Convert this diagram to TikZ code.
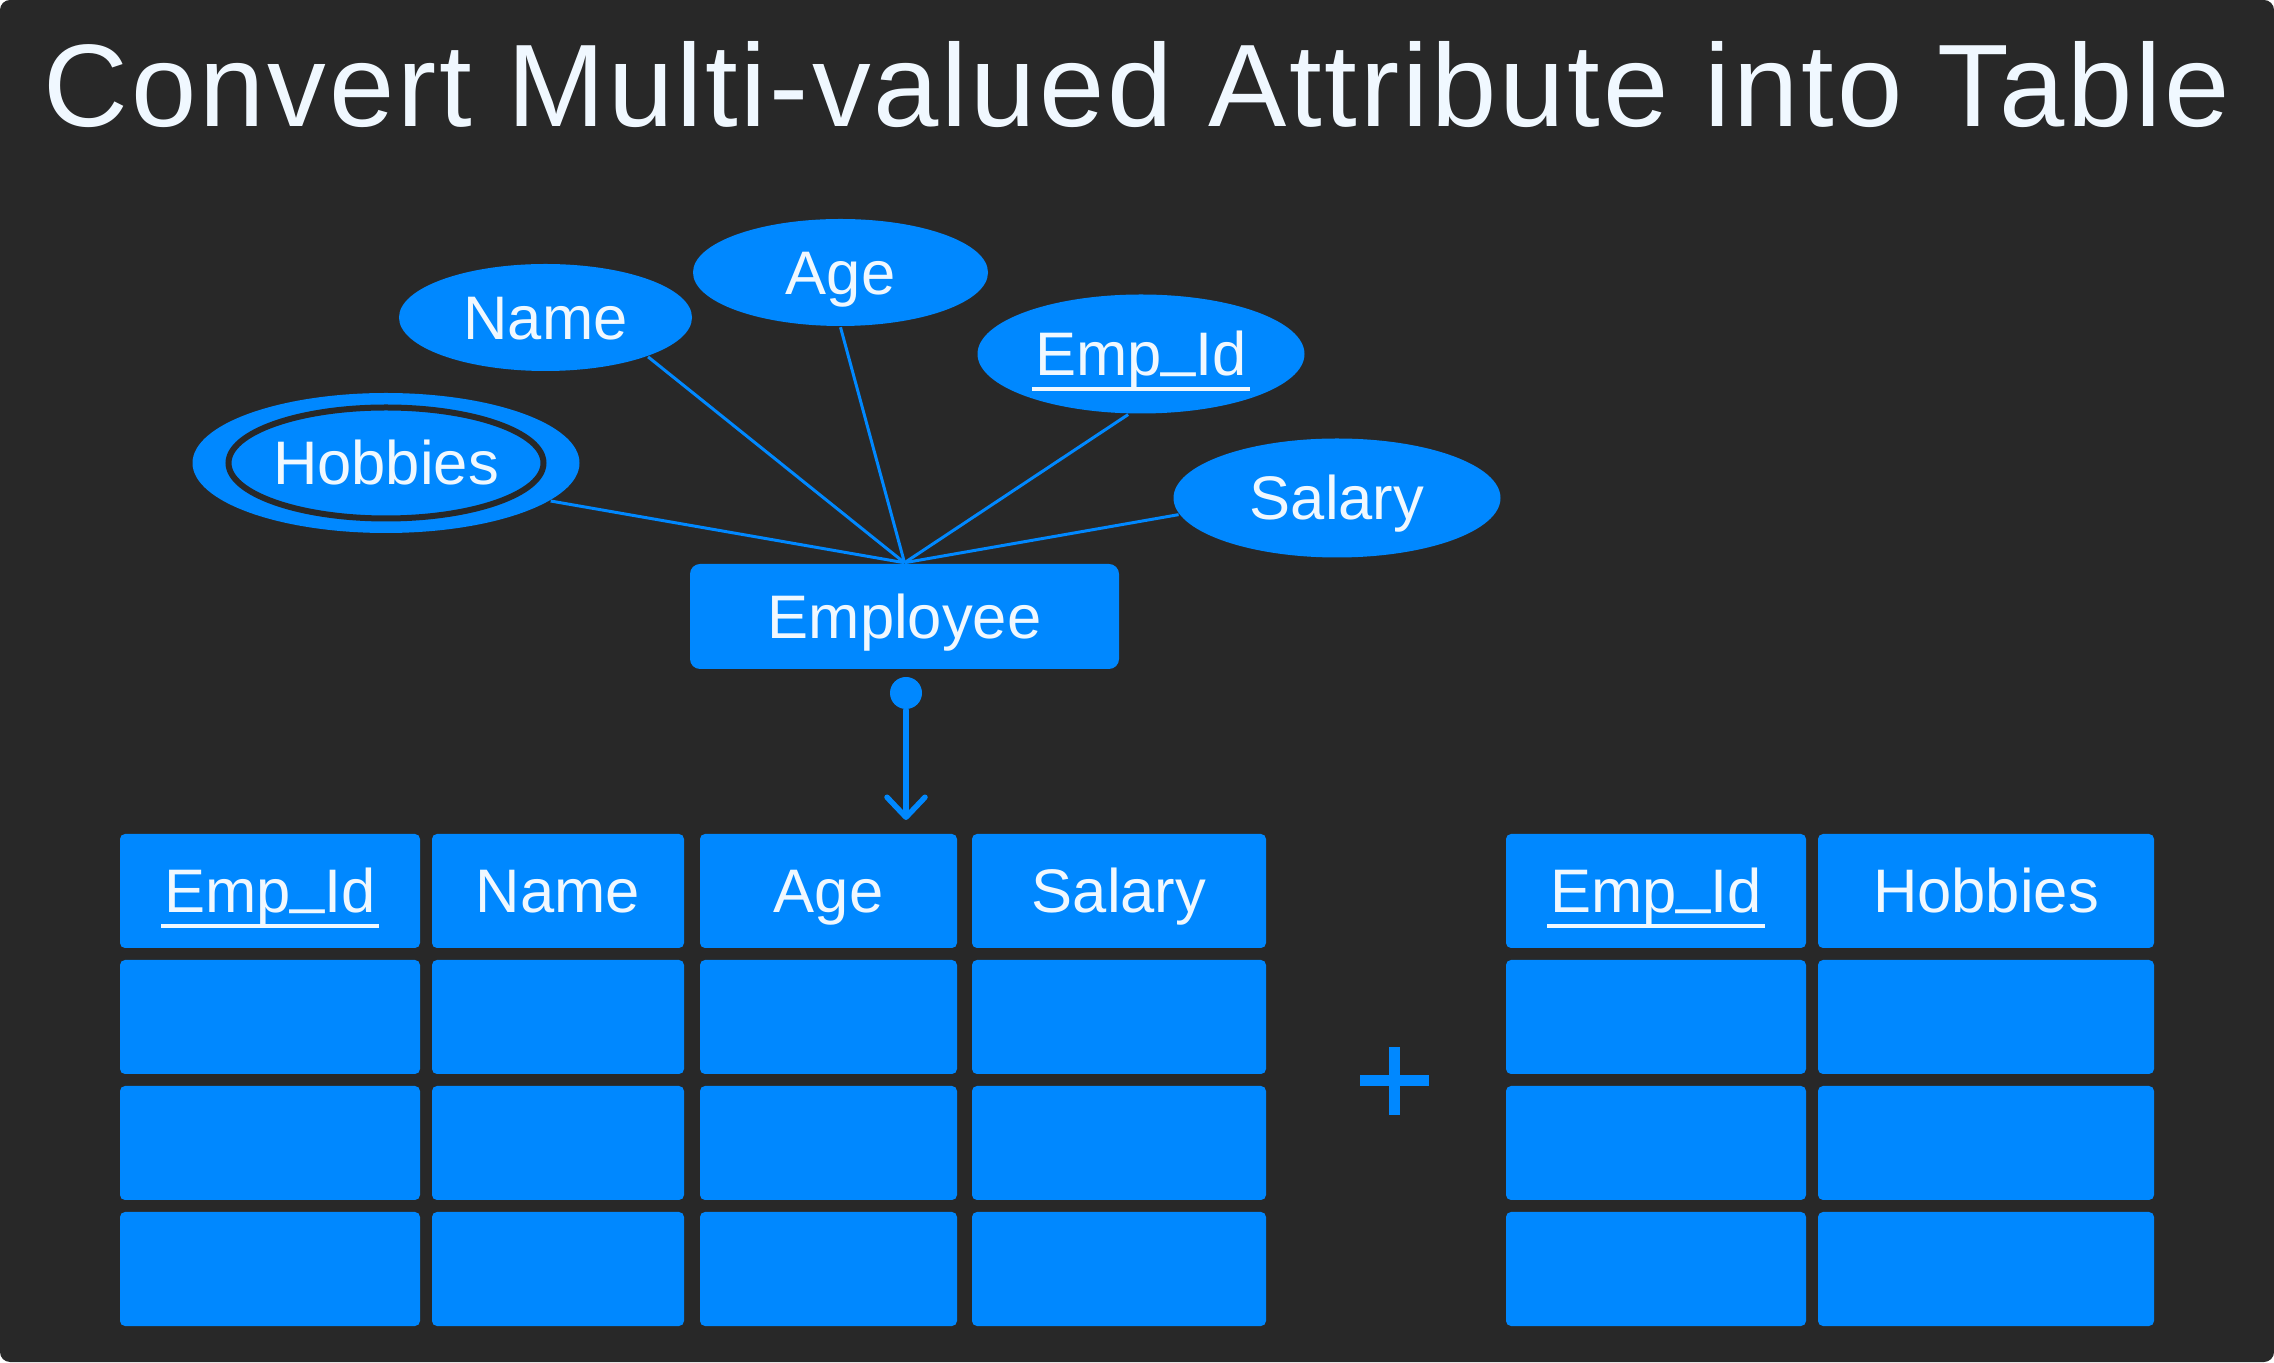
\documentclass[tikz,border=0pt]{standalone}
\usepackage{fontspec}
\setmainfont{Liberation Sans}
\usetikzlibrary{arrows.meta,shapes.geometric}
\definecolor{panel}{RGB}{40,40,40}
\definecolor{erblue}{RGB}{0,136,255}
\definecolor{paper}{RGB}{240,248,255}
\newcommand{\erfont}{\fontsize{17.5}{21}\selectfont}
\newcommand{\us}{\raisebox{1.1mm}{\_}}
\newcommand{\keyattr}[1]{\setbox0\hbox{#1}\rlap{\kern-0.3mm\rule[-1.5mm]{\dimexpr\wd0+0.6mm\relax}{0.38mm}}\box0}
\tikzset{
  every picture/.style={line width=0.25mm},
  headline/.style={text=paper, inner sep=0pt, font=\fontsize{33.4}{40}\selectfont\addfontfeatures{LetterSpace=2.5}},
  attr/.style={ellipse, fill=erblue, inner sep=0pt, text=paper, font=\erfont, text height=4.4mm, text depth=0pt},
  entity/.style={fill=erblue, rounded corners=1mm, inner sep=0pt, minimum width=42.9mm, minimum height=10.5mm, text=paper, font=\erfont, text height=4.4mm, text depth=0pt},
  tcell/.style={fill=erblue, rounded corners=0.5mm, inner sep=0pt, minimum height=11.4mm, text=paper, font=\erfont, text height=4.4mm, text depth=0pt},
  link/.style={draw=erblue, line width=0.3mm},
  flowline/.style={draw=erblue, line width=0.55mm, line cap=round, -{Straight Barb[length=2mm, width=3.8mm, round]}},
}

\begin{document}
\begin{tikzpicture}
  % canvas is 227.4mm x 136.2mm, positions measured from the bottom left
  \fill[panel, rounded corners=1mm] (0,0) rectangle (227.4mm,136.2mm);
  \useasboundingbox (0,0) rectangle (227.4mm,136.2mm);
  \node[headline, anchor=base] (title) at (113.7mm,123.5mm) {Convert Multi-valued Attribute into Table};
  % ER part: attributes round the entity
  \node[attr, minimum width=29.3mm, minimum height=10.7mm] (name)   at (54.55mm,104.45mm) {Name};
  \node[attr, minimum width=29.5mm, minimum height=10.7mm] (age)    at (84.05mm,108.95mm) {Age};
  \node[attr, minimum width=32.7mm, minimum height=11.9mm] (empid)  at (114.1mm,100.8mm) {\keyattr{Emp\us Id}};
  \node[attr, minimum width=32.7mm, minimum height=11.9mm] (salary) at (133.7mm,86.4mm) {Salary};
  \node[attr, minimum width=38.7mm, minimum height=14mm]   (hobbies) at (38.6mm,89.9mm) {Hobbies};
  \draw[panel, line width=0.6mm] (hobbies.center) ellipse (15.75mm and 5.55mm);
  \node[entity] (employee) at (90.45mm,74.55mm) {Employee};
  \draw[link] (employee.north) -- (hobbies.-13);
  \draw[link] (employee.north) -- (name.-21);
  \draw[link] (employee.north) -- (age.south);
  \draw[link] (employee.north) -- (empid.-102);
  \draw[link] (employee.north) -- (salary.186);
  \node[circle, fill=erblue, minimum size=3.2mm, inner sep=0pt] (dot) at (90.6mm,66.9mm) {};
  \coordinate (drop) at (90.6mm,54.2mm);
  \draw[flowline] (dot) -- (drop);
  % the two tables, header row first
  \node[tcell, minimum width=30mm]   (a1) at (27mm,47.1mm)    {\keyattr{Emp\us Id}};
  \node[tcell, minimum width=25.2mm] (b1) at (55.8mm,47.1mm)  {Name};
  \node[tcell, minimum width=25.7mm] (c1) at (82.85mm,47.1mm) {Age};
  \node[tcell, minimum width=29.4mm] (d1) at (111.9mm,47.1mm) {Salary};
  \node[tcell, minimum width=30mm]   (e1) at (165.6mm,47.1mm) {\keyattr{Emp\us Id}};
  \node[tcell, minimum width=33.6mm] (f1) at (198.6mm,47.1mm) {Hobbies};
  \foreach \x/\w/\c in {27/30/a, 55.8/25.2/b, 82.85/25.7/c, 111.9/29.4/d, 165.6/30/e, 198.6/33.6/f}
    \foreach \y/\r in {34.5/2, 21.9/3, 9.3/4}
      \node[tcell, minimum width=\w mm] (\c\r) at (\x mm,\y mm) {};
  \coordinate (plus) at (139.45mm,28.1mm);
  \draw[erblue, line width=1.1mm] ([xshift=-3.45mm]plus) -- ([xshift=3.45mm]plus)
    ([yshift=-3.4mm]plus) -- ([yshift=3.4mm]plus);
\end{tikzpicture}
\end{document}
